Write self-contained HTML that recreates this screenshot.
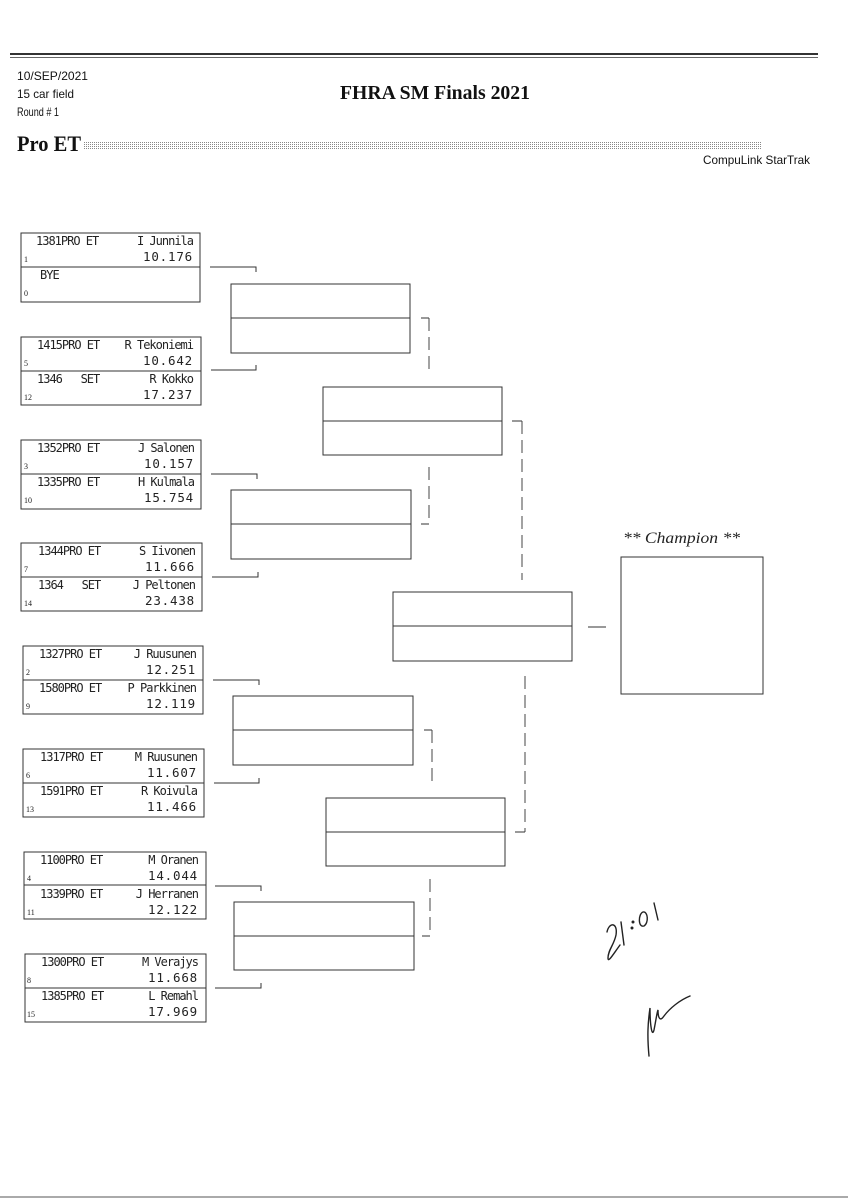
<!DOCTYPE html>
<html><head><meta charset="utf-8"><style>
html,body{margin:0;padding:0;background:#fff;}
svg{display:block}
.m{font-family:"DejaVu Sans Mono","Liberation Mono",monospace;font-size:12px;fill:#222;white-space:pre;letter-spacing:-1px}
.t{font-family:"DejaVu Sans Mono","Liberation Mono",monospace;font-size:12.5px;fill:#222;letter-spacing:0.8px}
.s{font-family:"Liberation Serif",serif;font-size:8px;fill:#222}
.b{fill:none;stroke:#333;stroke-width:1}
.d{fill:none;stroke:#444;stroke-width:1;stroke-dasharray:13,6}
</style></head><body>
<svg width="848" height="1200" viewBox="0 0 848 1200" xmlns="http://www.w3.org/2000/svg">
<defs>
<pattern id="dots" width="2" height="2" patternUnits="userSpaceOnUse"><rect width="1" height="1" fill="#888"/></pattern>
</defs>
<line x1="10" y1="54" x2="818" y2="54" stroke="#333" stroke-width="2"/>
<line x1="10" y1="57.5" x2="818" y2="57.5" stroke="#666" stroke-width="1"/>
<text x="17" y="80" font-family="Liberation Sans,sans-serif" font-size="12" fill="#111" textLength="71" lengthAdjust="spacingAndGlyphs">10/SEP/2021</text>
<text x="17" y="98" font-family="Liberation Sans,sans-serif" font-size="12" fill="#111" textLength="57" lengthAdjust="spacingAndGlyphs">15 car field</text>
<text x="17" y="116" font-family="Liberation Sans,sans-serif" font-size="12" fill="#111" textLength="42" lengthAdjust="spacingAndGlyphs">Round # 1</text>
<text x="340" y="99" font-family="Liberation Serif,serif" font-weight="bold" font-size="20" fill="#111" textLength="190" lengthAdjust="spacingAndGlyphs">FHRA SM Finals 2021</text>
<text x="17" y="151" font-family="Liberation Serif,serif" font-weight="bold" font-size="22" fill="#111" textLength="64" lengthAdjust="spacingAndGlyphs">Pro ET</text>
<rect x="84" y="141" width="678" height="8" fill="url(#dots)"/>
<text x="703" y="164" font-family="Liberation Sans,sans-serif" font-size="12" fill="#111" textLength="107" lengthAdjust="spacingAndGlyphs">CompuLink StarTrak</text>

<g>
<rect class="b" x="21" y="233" width="179" height="69"/><line class="b" x1="21" y1="267" x2="200" y2="267"/>
<text class="m" x="36" y="245">1381PRO ET</text><text class="m" x="193" y="245" text-anchor="end">I Junnila</text>
<text class="s" x="24" y="262">1</text><text class="t" x="193" y="261" text-anchor="end">10.176</text>
<text class="m" x="40" y="279">BYE</text><text class="s" x="24" y="296">0</text>

<rect class="b" x="21" y="337" width="180" height="68"/><line class="b" x1="21" y1="371" x2="201" y2="371"/>
<text class="m" x="37" y="349">1415PRO ET</text><text class="m" x="193" y="349" text-anchor="end">R Tekoniemi</text>
<text class="s" x="24" y="366">5</text><text class="t" x="193" y="365" text-anchor="end">10.642</text>
<text class="m" x="37" y="383">1346   SET</text><text class="m" x="193" y="383" text-anchor="end">R Kokko</text>
<text class="s" x="24" y="400">12</text><text class="t" x="193" y="399" text-anchor="end">17.237</text>

<rect class="b" x="21" y="440" width="180" height="69"/><line class="b" x1="21" y1="474" x2="201" y2="474"/>
<text class="m" x="37" y="452">1352PRO ET</text><text class="m" x="194" y="452" text-anchor="end">J Salonen</text>
<text class="s" x="24" y="469">3</text><text class="t" x="194" y="468" text-anchor="end">10.157</text>
<text class="m" x="37" y="486">1335PRO ET</text><text class="m" x="194" y="486" text-anchor="end">H Kulmala</text>
<text class="s" x="24" y="503">10</text><text class="t" x="194" y="502" text-anchor="end">15.754</text>

<rect class="b" x="21" y="543" width="181" height="68"/><line class="b" x1="21" y1="577" x2="202" y2="577"/>
<text class="m" x="38" y="555">1344PRO ET</text><text class="m" x="195" y="555" text-anchor="end">S Iivonen</text>
<text class="s" x="24" y="572">7</text><text class="t" x="195" y="571" text-anchor="end">11.666</text>
<text class="m" x="38" y="589">1364   SET</text><text class="m" x="195" y="589" text-anchor="end">J Peltonen</text>
<text class="s" x="24" y="606">14</text><text class="t" x="195" y="605" text-anchor="end">23.438</text>

<rect class="b" x="23" y="646" width="180" height="68"/><line class="b" x1="23" y1="680" x2="203" y2="680"/>
<text class="m" x="39" y="658">1327PRO ET</text><text class="m" x="196" y="658" text-anchor="end">J Ruusunen</text>
<text class="s" x="26" y="675">2</text><text class="t" x="196" y="674" text-anchor="end">12.251</text>
<text class="m" x="39" y="692">1580PRO ET</text><text class="m" x="196" y="692" text-anchor="end">P Parkkinen</text>
<text class="s" x="26" y="709">9</text><text class="t" x="196" y="708" text-anchor="end">12.119</text>

<rect class="b" x="23" y="749" width="181" height="68"/><line class="b" x1="23" y1="783" x2="204" y2="783"/>
<text class="m" x="40" y="761">1317PRO ET</text><text class="m" x="197" y="761" text-anchor="end">M Ruusunen</text>
<text class="s" x="26" y="778">6</text><text class="t" x="197" y="777" text-anchor="end">11.607</text>
<text class="m" x="40" y="795">1591PRO ET</text><text class="m" x="197" y="795" text-anchor="end">R Koivula</text>
<text class="s" x="26" y="812">13</text><text class="t" x="197" y="811" text-anchor="end">11.466</text>

<rect class="b" x="24" y="852" width="182" height="67"/><line class="b" x1="24" y1="885" x2="206" y2="885"/>
<text class="m" x="40" y="864">1100PRO ET</text><text class="m" x="198" y="864" text-anchor="end">M Oranen</text>
<text class="s" x="27" y="881">4</text><text class="t" x="198" y="880" text-anchor="end">14.044</text>
<text class="m" x="40" y="898">1339PRO ET</text><text class="m" x="198" y="898" text-anchor="end">J Herranen</text>
<text class="s" x="27" y="915">11</text><text class="t" x="198" y="914" text-anchor="end">12.122</text>

<rect class="b" x="25" y="954" width="181" height="68"/><line class="b" x1="25" y1="988" x2="206" y2="988"/>
<text class="m" x="41" y="966">1300PRO ET</text><text class="m" x="198" y="966" text-anchor="end">M Verajys</text>
<text class="s" x="27" y="983">8</text><text class="t" x="198" y="982" text-anchor="end">11.668</text>
<text class="m" x="41" y="1000">1385PRO ET</text><text class="m" x="198" y="1000" text-anchor="end">L Remahl</text>
<text class="s" x="27" y="1017">15</text><text class="t" x="198" y="1016" text-anchor="end">17.969</text>
</g>

<g class="b">
<path d="M210 267H256V272"/><path d="M211 370H256V365"/>
<path d="M211 474H257V479"/><path d="M212 577H258V572"/>
<path d="M213 680H259V685"/><path d="M214 783H259V778"/>
<path d="M215 886H261V891"/><path d="M215 988H261V983"/>
</g>

<rect class="b" x="231" y="284" width="179" height="69"/><line class="b" x1="231" y1="318" x2="410" y2="318"/>
<rect class="b" x="231" y="490" width="180" height="69"/><line class="b" x1="231" y1="524" x2="411" y2="524"/>
<rect class="b" x="233" y="696" width="180" height="69"/><line class="b" x1="233" y1="730" x2="413" y2="730"/>
<rect class="b" x="234" y="902" width="180" height="68"/><line class="b" x1="234" y1="936" x2="414" y2="936"/>

<path class="b" d="M421 318H429"/><path class="d" d="M429 318V375"/>
<path class="d" d="M429 467V524"/><path class="b" d="M429 524H421"/>
<path class="b" d="M424 730H432"/><path class="d" d="M432 730V787"/>
<path class="d" d="M430 879V936"/><path class="b" d="M430 936H422"/>

<rect class="b" x="323" y="387" width="179" height="68"/><line class="b" x1="323" y1="421" x2="502" y2="421"/>
<rect class="b" x="326" y="798" width="179" height="68"/><line class="b" x1="326" y1="832" x2="505" y2="832"/>

<path class="b" d="M512 421H522"/><path class="d" d="M522 421V580"/>
<path class="d" d="M525 676V832"/><path class="b" d="M525 832H515"/>

<rect class="b" x="393" y="592" width="179" height="69"/><line class="b" x1="393" y1="626" x2="572" y2="626"/>
<line class="b" x1="588" y1="627" x2="606" y2="627"/>

<text x="623" y="543" font-family="Liberation Serif,serif" font-style="italic" font-size="16" fill="#222" textLength="117" lengthAdjust="spacingAndGlyphs">** Champion **</text>
<rect class="b" x="621" y="557" width="142" height="137"/>

<g fill="none" stroke="#222" stroke-width="1.4" stroke-linecap="round">
<path d="M607 932C609 922 618 922 616 935C614 945 608 950 608 958C608 963 612 956 620 945"/>
<path d="M621 922L624 945"/>
<circle cx="632" cy="928" r="0.8"/><circle cx="633" cy="922" r="0.8"/>
<path d="M643 912C638 914 638 928 644 926C649 923 648 911 643 912Z"/>
<path d="M654 903L658 920"/>
<path d="M649 1056C647 1035 648 1022 650 1008C650 1025 652 1038 654 1030C656 1020 657 1012 658 1010C658 1018 660 1022 664 1016C670 1008 680 1000 690 996"/>
</g>

<line x1="0" y1="1197" x2="848" y2="1197" stroke="#555" stroke-width="1"/>
</svg>
</body></html>
